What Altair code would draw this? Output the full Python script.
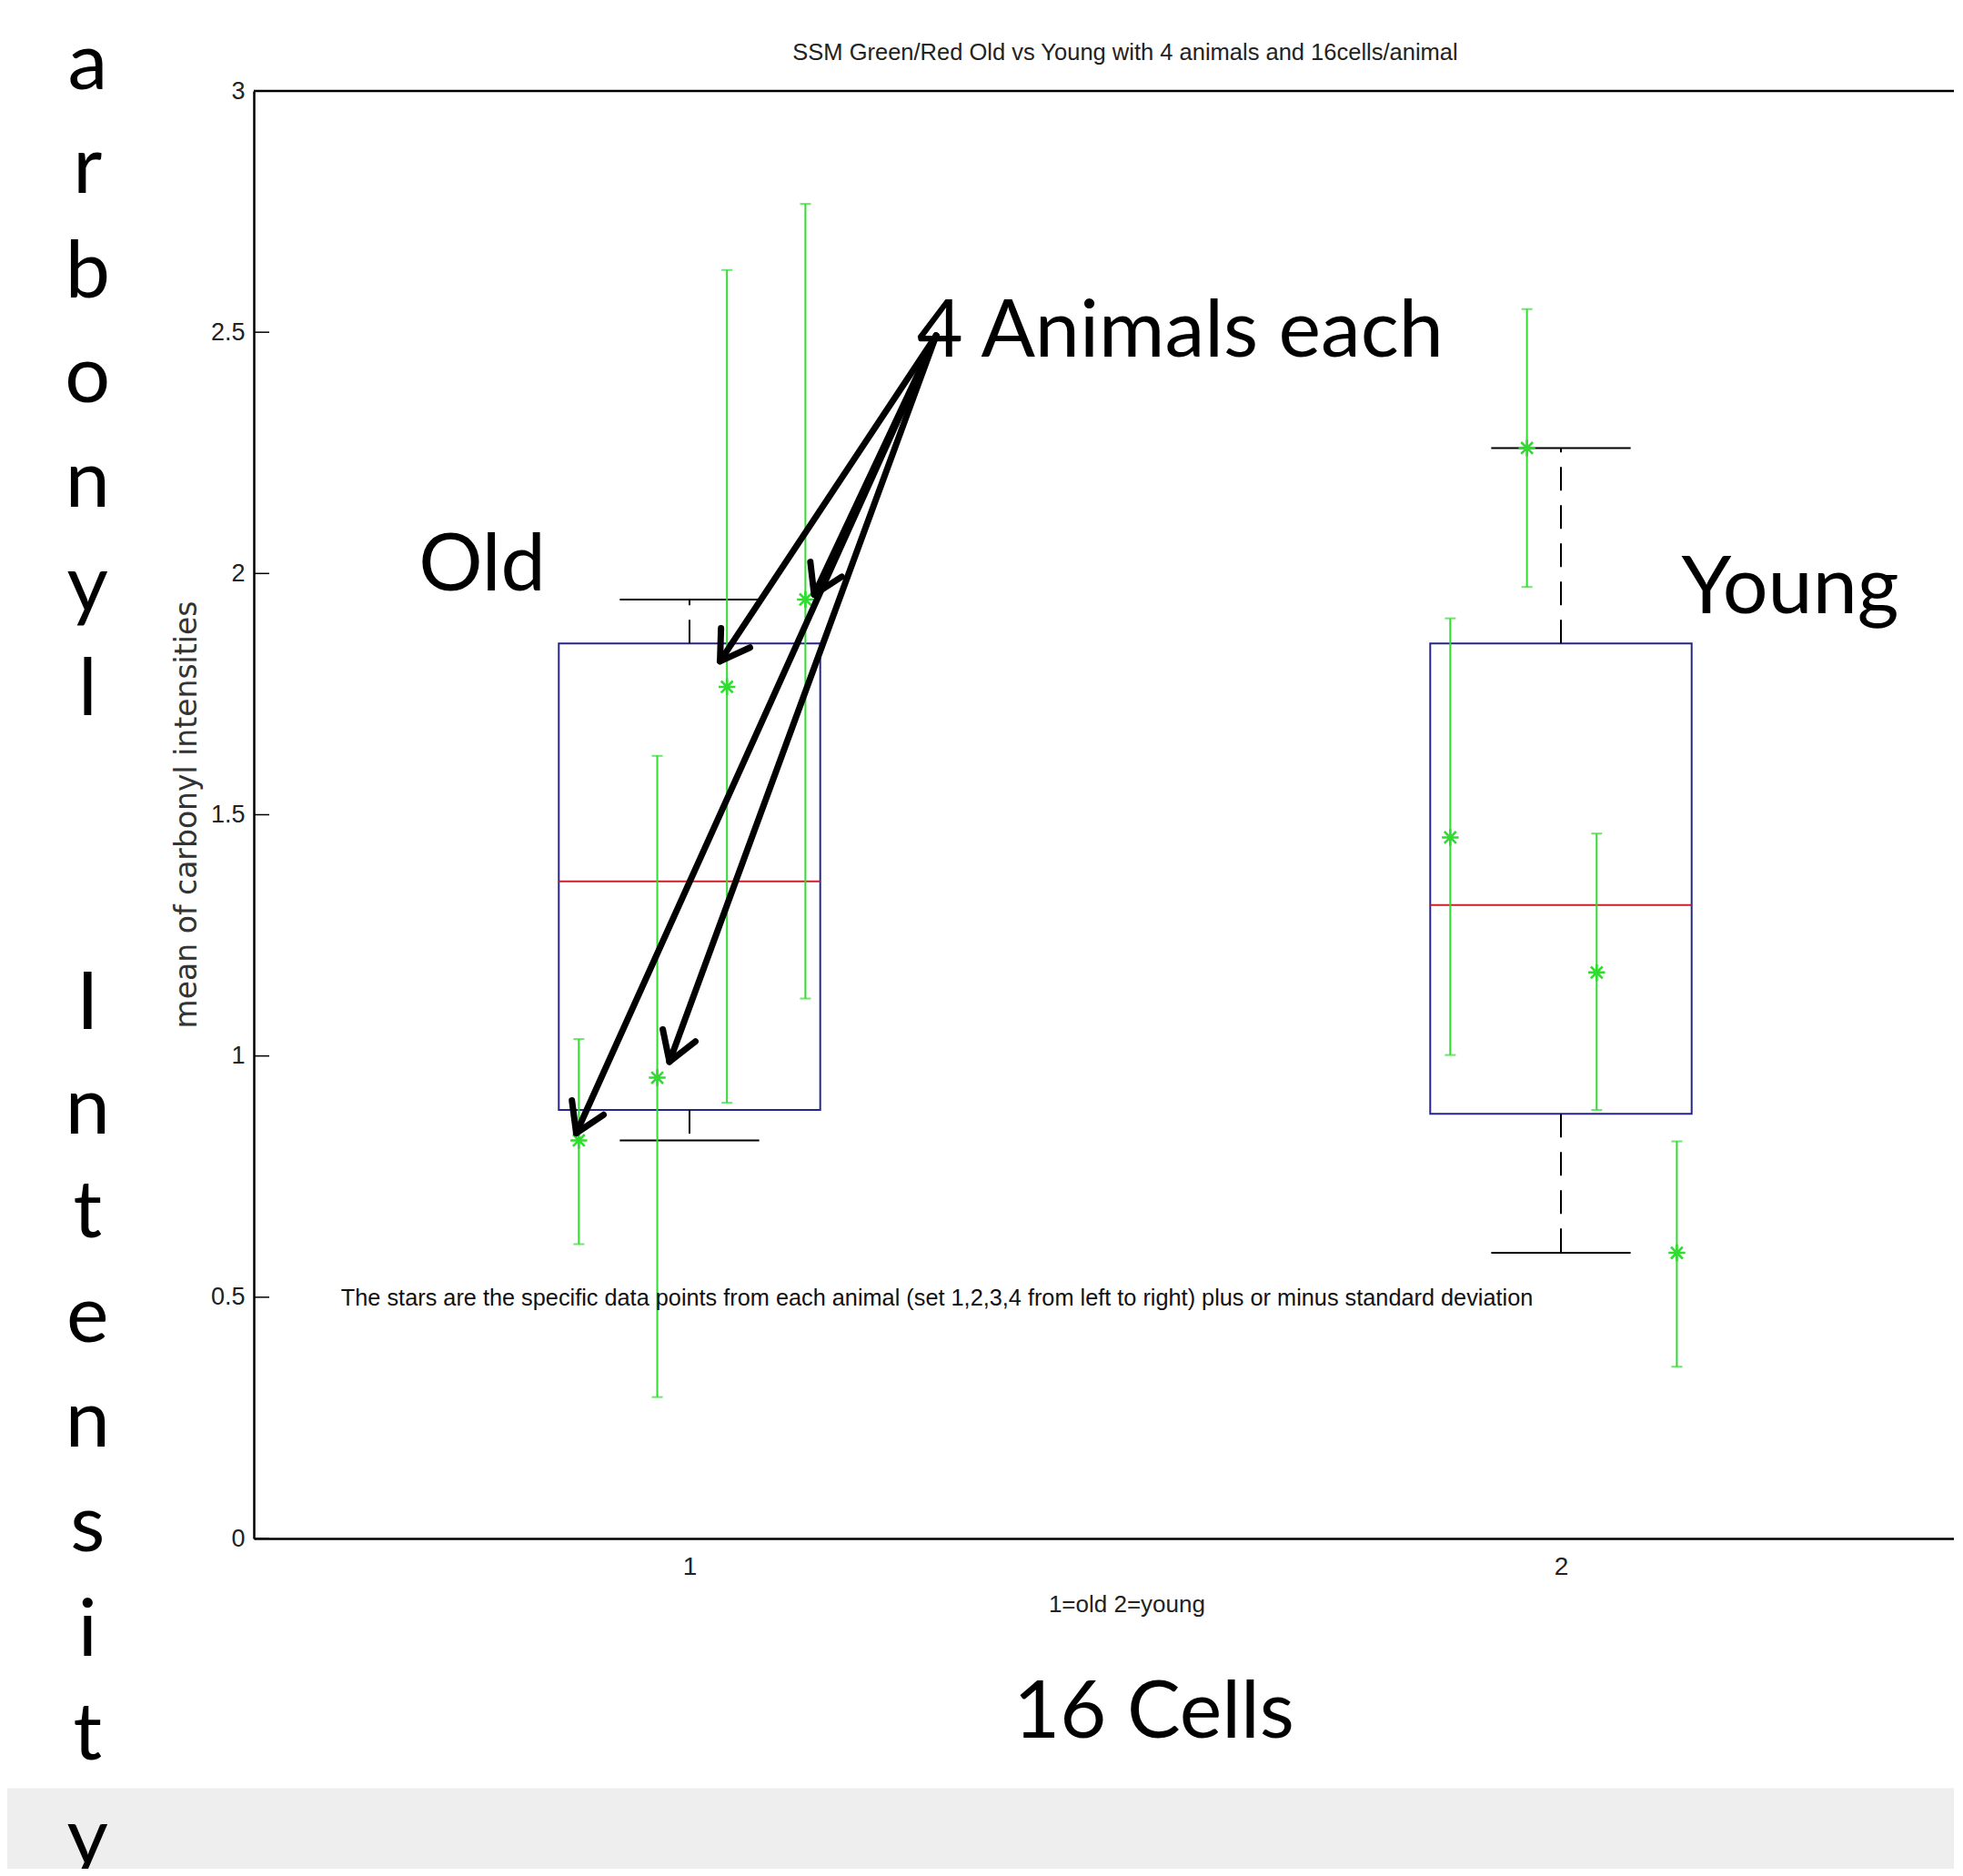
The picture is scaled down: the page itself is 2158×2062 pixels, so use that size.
import math
import altair as alt
import pandas as pd

# ---------------- data ----------------
groups = [1, 2]

# box statistics per group (1 = old, 2 = young)
box_q1 = [0.888, 0.880]
box_median = [1.362, 1.313]
box_q3 = [1.855, 1.855]
whisker_low = [0.825, 0.592]
whisker_high = [1.946, 2.260]

# per-animal means +/- standard deviation
old_pos = [0.873, 0.963, 1.043, 1.133]
old_mean = [0.825, 0.955, 1.765, 1.946]
old_hi = [1.035, 1.622, 2.629, 2.766]
old_lo = [0.610, 0.293, 0.903, 1.119]

young_pos = [1.873, 1.961, 2.041, 2.133]
young_mean = [1.453, 2.260, 1.173, 0.592]
young_hi = [1.907, 2.548, 1.461, 0.823]
young_lo = [1.002, 1.972, 0.888, 0.356]

y_ticks = [0, 0.5, 1, 1.5, 2, 2.5, 3]
x_ticks = [1, 2]

title_text = "SSM Green/Red Old vs Young with 4 animals and 16cells/animal"
note_text = ("The stars are the specific data points from each animal "
             "(set 1,2,3,4 from left to right) plus or minus standard deviation")
xlabel_text = "1=old 2=young"
ylabel_text = "mean of carbonyl intensities"
side_words = ["arbonyl", "Intensity"]      # vertical slide label, one letter per line

big_labels = ["4 Animals each", "Old", "Young", "16 Cells"]

# arrows: common tail and four heads (data coordinates)
arrow_tail_x = [1.283, 1.283, 1.283, 1.283]
arrow_tail_y = [2.493, 2.493, 2.493, 2.493]
arrow_head_x = [1.035, 1.143, 0.870, 0.977]
arrow_head_y = [1.818, 1.956, 0.840, 0.988]

# ---------------- layout / style ----------------
PX_PER_X = 958.0
W = 1869
H = 1591
PX_PER_Y = H / 3.0
PAD = {"left": 271, "top": 92, "right": 0, "bottom": 363}
X_DOMAIN = [0.5, 0.5 + W / PX_PER_X]
Y_DOMAIN = [0, 3]

BOX_HALF = 0.15
CAP_HALF = 0.08

SIDE_LINE_H = 114.8          # px between letters of the vertical label
SIDE_FIRST_LINE = [0, 9]     # line index where each word starts (two blank lines between)

NARROW = "Liberation Sans Narrow, Arial Narrow, Liberation Sans, sans-serif"
SLIDE = "Lato, Open Sans, sans-serif"
GREEN = "#2fdc2f"
BLUE = "#25258c"
RED = "#c8202a"

xs = alt.Scale(domain=X_DOMAIN, nice=False, zero=False)
ys = alt.Scale(domain=Y_DOMAIN, nice=False, zero=False)

AX_X = alt.Axis(values=x_ticks, ticks=False, grid=False, domain=True,
                domainColor="black", domainWidth=2.5, labelFont=NARROW,
                labelFontSize=28, labelColor="#222222", labelPadding=17,
                labelAngle=0)
AX_Y = alt.Axis(values=y_ticks, format="~g", ticks=False, grid=False, domain=True,
                domainColor="black", domainWidth=2.5, labelFont=NARROW,
                labelFontSize=27, labelColor="#222222", labelPadding=10)


def X(field):
    return alt.X(field, type="quantitative", scale=xs, axis=AX_X, title=None)


def Y(field):
    return alt.Y(field, type="quantitative", scale=ys, axis=AX_Y, title=None)


# ---------------- tables ----------------
box_df = pd.DataFrame({
    "g": groups, "q1": box_q1, "med": box_median, "q3": box_q3,
    "lo": whisker_low, "hi": whisker_high,
})
box_df["left"] = box_df["g"] - BOX_HALF
box_df["right"] = box_df["g"] + BOX_HALF
box_df["capl"] = box_df["g"] - CAP_HALF
box_df["capr"] = box_df["g"] + CAP_HALF

pts_df = pd.DataFrame({
    "pos": old_pos + young_pos,
    "mean": old_mean + young_mean,
    "hi": old_hi + young_hi,
    "lo": old_lo + young_lo,
})

arrow_df = pd.DataFrame({
    "tx": arrow_tail_x, "ty": arrow_tail_y,
    "hx": arrow_head_x, "hy": arrow_head_y,
})
arrow_df["ang"] = [
    math.degrees(math.atan2(-(hy - ty) * PX_PER_Y, (hx - tx) * PX_PER_X)) % 360
    for tx, ty, hx, hy in zip(arrow_tail_x, arrow_tail_y, arrow_head_x, arrow_head_y)
]

# text anchor positions (data coordinates)
big_df = pd.DataFrame({
    "t": big_labels,
    "x": [1.563, 0.762, 2.263, 1.533],
    "y": [2.4495, 1.964, 1.917, -0.4135],
})

SIDE_X = 0.3093
SIDE_Y0 = 3.0045
side_df = pd.DataFrame({
    "t": ["\n".join(list(w)) for w in side_words],
    "x": [SIDE_X, SIDE_X],
    "y": [SIDE_Y0 - k * SIDE_LINE_H / PX_PER_Y for k in SIDE_FIRST_LINE],
})

# ---------------- layers ----------------
band = alt.Chart(pd.DataFrame({"x": [0.0], "x2": [2.8], "y": [-0.5175], "y2": [-0.9]})).mark_rect(
    color="#eeeeee").encode(x=X("x"), x2="x2", y=Y("y"), y2="y2")

box = alt.Chart(box_df).mark_rect(fillOpacity=0, stroke=BLUE, strokeWidth=2).encode(
    x=X("left"), x2="right", y=Y("q1"), y2="q3")

median = alt.Chart(box_df).mark_rule(color=RED, strokeWidth=2).encode(
    x=X("left"), x2="right", y=Y("med"))

whisk_up = alt.Chart(box_df).mark_rule(color="black", strokeWidth=2, strokeDash=[26, 16]).encode(
    x=X("g"), y=Y("q3"), y2="hi")
whisk_dn = alt.Chart(box_df).mark_rule(color="black", strokeWidth=2, strokeDash=[26, 16]).encode(
    x=X("g"), y=Y("q1"), y2="lo")
cap_up = alt.Chart(box_df).mark_rule(color="black", strokeWidth=2).encode(
    x=X("capl"), x2="capr", y=Y("hi"))
cap_dn = alt.Chart(box_df).mark_rule(color="black", strokeWidth=2).encode(
    x=X("capl"), x2="capr", y=Y("lo"))

err = alt.Chart(pts_df).mark_rule(color=GREEN, strokeWidth=2).encode(
    x=X("pos"), y=Y("lo"), y2="hi")
err_hi = alt.Chart(pts_df).mark_tick(color=GREEN, orient="horizontal", size=12, thickness=2).encode(
    x=X("pos"), y=Y("hi"))
err_lo = alt.Chart(pts_df).mark_tick(color=GREEN, orient="horizontal", size=12, thickness=2).encode(
    x=X("pos"), y=Y("lo"))
stars = alt.Chart(pts_df).mark_point(
    shape="M-1,0L1,0M0,-1L0,1M-0.7,-0.7L0.7,0.7M-0.7,0.7L0.7,-0.7",
    size=340, filled=False, stroke=GREEN, strokeWidth=2.6, opacity=1).encode(
    x=X("pos"), y=Y("mean"))

ytick_df = pd.DataFrame({"v": y_ticks})
inner_ticks = alt.Chart(ytick_df).mark_rule(color="black", strokeWidth=1.5).encode(
    y=Y("v"), x=alt.value(0), x2=alt.value(17))

top_frame = alt.Chart(pd.DataFrame({"v": [Y_DOMAIN[1]]})).mark_rule(color="black", strokeWidth=2.5).encode(
    y=Y("v"), x=alt.value(0), x2=alt.value(W))

title = alt.Chart(pd.DataFrame({"t": [title_text], "x": [1.5], "y": [3.08]})).mark_text(
    font=NARROW, fontSize=25.5, color="#222222", baseline="middle", align="center").encode(
    x=X("x"), y=Y("y"), text="t:N")

note = alt.Chart(pd.DataFrame({"t": [note_text], "x": [1.284], "y": [0.4975]})).mark_text(
    font=NARROW, fontSize=25.3, color="#111111", baseline="middle", align="center").encode(
    x=X("x"), y=Y("y"), text="t:N")

xlabel = alt.Chart(pd.DataFrame({"t": [xlabel_text], "x": [1.502], "y": [-0.1377]})).mark_text(
    font=NARROW, fontSize=26, color="#222222", baseline="middle", align="center").encode(
    x=X("x"), y=Y("y"), text="t:N")

ylabel = alt.Chart(pd.DataFrame({"t": [ylabel_text], "x": [0.4238], "y": [1.5]})).mark_text(
    font="DejaVu Sans", fontSize=33, color="#333333", baseline="middle", align="center",
    angle=270).encode(x=X("x"), y=Y("y"), text="t:N")

side = alt.Chart(side_df).mark_text(
    font=SLIDE, fontSize=88, color="black", baseline="alphabetic", align="center",
    lineBreak="\n", lineHeight=SIDE_LINE_H).encode(x=X("x"), y=Y("y"), text="t:N")

big = alt.Chart(big_df).mark_text(
    font=SLIDE, fontSize=88, color="black", baseline="alphabetic", align="center").encode(
    x=X("x"), y=Y("y"), text="t:N")

arrow_lines = alt.Chart(arrow_df).mark_rule(color="black", strokeWidth=7, strokeCap="round").encode(
    x=X("tx"), y=Y("ty"), x2="hx", y2="hy")
arrow_heads = alt.Chart(arrow_df).mark_point(
    shape="M-1,-0.62L0,0L-1,0.62", size=3800, filled=False, stroke="black", strokeWidth=7,
    strokeCap="round", strokeJoin="round", opacity=1).encode(
    x=X("hx"), y=Y("hy"), angle=alt.Angle("ang:Q", scale=None))

chart = alt.layer(
    band, box, median, whisk_up, whisk_dn, cap_up, cap_dn,
    err, err_hi, err_lo, stars, inner_ticks, top_frame,
    title, note, xlabel, ylabel, side, big, arrow_lines, arrow_heads,
).properties(
    width=W, height=H, padding=PAD,
    autosize=alt.AutoSizeParams(type="none"),
    background="white",
).configure_view(strokeWidth=0)

chart.save("out.html", embed_options={"renderer": "svg", "actions": False})
